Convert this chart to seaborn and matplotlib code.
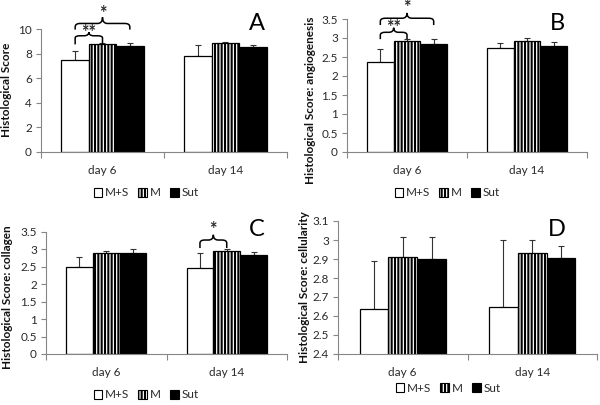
import numpy as np
import pandas as pd
import seaborn as sns
import matplotlib
matplotlib.use("Agg")
import matplotlib.pyplot as plt
from matplotlib.patches import Patch, PathPatch
from matplotlib.path import Path

# ---------------- data ----------------
days = ["day 6", "day 14"]
groups = ["M+S", "M", "Sut"]

# Panel A: Histological Score (mean per day: [day 6, day 14])
a_ms = [7.5, 7.8]
a_m = [8.75, 8.85]
a_sut = [8.6, 8.5]
a_ms_sd = [0.75, 0.9]
a_m_sd = [0.15, 0.08]
a_sut_sd = [0.3, 0.22]

# Panel B: angiogenesis
b_ms = [2.37, 2.73]
b_m = [2.91, 2.93]
b_sut = [2.84, 2.79]
b_ms_sd = [0.35, 0.15]
b_m_sd = [0.06, 0.08]
b_sut_sd = [0.13, 0.1]

# Panel C: collagen
c_ms = [2.5, 2.47]
c_m = [2.91, 2.96]
c_sut = [2.9, 2.85]
c_ms_sd = [0.28, 0.44]
c_m_sd = [0.05, 0.04]
c_sut_sd = [0.12, 0.09]

# Panel D: cellularity
d_ms = [2.637, 2.645]
d_m = [2.911, 2.934]
d_sut = [2.9, 2.905]
d_ms_sd = [0.25, 0.355]
d_m_sd = [0.105, 0.066]
d_sut_sd = [0.118, 0.066]

ylabels = ["Histological Score", "Histological Score: angiogenesis",
           "Histological Score: collagen", "Histological Score: cellularity"]
panel_letters = ["A", "B", "C", "D"]
a_ticks = [0, 2, 4, 6, 8, 10]
b_ticks = [0, 0.5, 1, 1.5, 2, 2.5, 3, 3.5]
c_ticks = [0, 0.5, 1, 1.5, 2, 2.5, 3, 3.5]
d_ticks = [2.4, 2.5, 2.6, 2.7, 2.8, 2.9, 3.0, 3.1]

bar_colors = ["white", "white", "black"]
hatches = ["", "|||||", ""]

# ---------------- style ----------------
sns.set_style("white")
plt.rcParams["font.family"] = ["Lato", "DejaVu Sans"]
plt.rcParams["hatch.linewidth"] = 1.5
plt.rcParams["hatch.color"] = "black"

W, H = 600, 405
fig = plt.figure(figsize=(6.0, 4.05), dpi=100)

def box(l, r, t, b):
    return [l / W, 1 - b / H, (r - l) / W, (b - t) / H]

rects = [box(41, 287, 29, 152), box(347, 587, 19, 152),
         box(46, 287, 232, 354), box(338, 597, 221, 354)]
label_x = [12, 316, 13, 310]
label_y = [90, 100, 297, 287]
letter_pos = [(257, 23), (557, 23), (257, 229), (557, 229)]
legend_pos = [(146, 193), (447, 193), (146, 395), (448, 388)]

panels = [
    (a_ms, a_m, a_sut, a_ms_sd, a_m_sd, a_sut_sd, a_ticks),
    (b_ms, b_m, b_sut, b_ms_sd, b_m_sd, b_sut_sd, b_ticks),
    (c_ms, c_m, c_sut, c_ms_sd, c_m_sd, c_sut_sd, c_ticks),
    (d_ms, d_m, d_sut, d_ms_sd, d_m_sd, d_sut_sd, d_ticks),
]

AXC = "#868686"
TXT = "#2a2a2a"
FS = 8.5


def brace(ax, x1, x2, ybot, yh, ypeak, text, ytext, rx=0.04, ry=None):
    if ry is None:
        ry = (ypeak - yh) * 0.6
    xm = (x1 + x2) / 2
    verts = [(x1, ybot), (x1, yh - ry), (x1, yh), (x1 + rx, yh),
             (xm - rx, yh), (xm, yh), (xm, ypeak),
             (xm, yh), (xm + rx, yh),
             (x2 - rx, yh), (x2, yh), (x2, yh - ry), (x2, ybot)]
    codes = [Path.MOVETO, Path.LINETO, Path.CURVE3, Path.CURVE3,
             Path.LINETO, Path.CURVE3, Path.CURVE3,
             Path.CURVE3, Path.CURVE3,
             Path.LINETO, Path.CURVE3, Path.CURVE3, Path.LINETO]
    pp = PathPatch(Path(verts, codes), fill=False, edgecolor="black",
                   linewidth=1.1, clip_on=False)
    ax.add_patch(pp)
    ax.text(xm, ytext, text, ha="center", va="center", fontsize=13,
            fontweight="bold", color=TXT, clip_on=False)


axes = []
bar_conts = []
for i, (ms, m, sut, ms_sd, m_sd, sut_sd, ticks) in enumerate(panels):
    ax = fig.add_axes(rects[i])
    axes.append(ax)
    df = pd.DataFrame({
        "day": days * 3,
        "group": [g for g in groups for _ in days],
        "score": list(ms) + list(m) + list(sut),
    })
    sns.barplot(data=df, x="day", y="score", hue="group", hue_order=groups,
                order=days, palette=bar_colors, edgecolor="black",
                linewidth=0.9, width=0.667, gap=0, errorbar=None,
                legend=False, ax=ax, zorder=2)
    conts = list(ax.containers)
    bar_conts.append(conts)
    sds = [ms_sd, m_sd, sut_sd]
    for gi, cont in enumerate(conts):
        xs, ys = [], []
        for bar in cont.patches:
            bar.set_hatch(hatches[gi])
            xs.append(bar.get_x() + bar.get_width() / 2)
            ys.append(bar.get_height())
        err = np.array(sds[gi])
        ax.errorbar(xs, ys, yerr=[np.zeros_like(err), err], fmt="none",
                    ecolor="#333333", elinewidth=0.8, capsize=2.0,
                    capthick=0.8, zorder=1)
    ax.set_xlim(-0.5, 1.5)
    ax.set_ylim(ticks[0], ticks[-1])
    ax.set_yticks(ticks)
    ax.set_yticklabels([f"{t:g}" for t in ticks])
    ax.set_xlabel("")
    ax.set_ylabel(ylabels[i], fontsize=8.5, color="#111111",
                  fontweight="bold")
    ax.yaxis.set_label_coords(label_x[i] / W, 1 - label_y[i] / H,
                              transform=fig.transFigure)
    for s in ["top", "right"]:
        ax.spines[s].set_visible(False)
    for s in ["left", "bottom"]:
        ax.spines[s].set_color(AXC)
        ax.spines[s].set_linewidth(0.8)
    ax.set_xticks([-0.5, 0.5, 1.5], minor=True)
    ax.tick_params(axis="x", which="major", length=0, labelsize=FS,
                   labelcolor=TXT, pad=9)
    ax.tick_params(axis="x", which="minor", length=4, color=AXC, width=0.8,
                   direction="out", bottom=True)
    ax.tick_params(axis="y", which="major", length=3.5, color=AXC, width=0.8,
                   direction="out", labelsize=FS, labelcolor=TXT, left=True,
                   pad=3)
    fig.text(letter_pos[i][0] / W, 1 - letter_pos[i][1] / H,
             panel_letters[i], ha="center", va="center", fontsize=17,
             color="black")
    handles = [Patch(facecolor=bar_colors[k], edgecolor="black",
                     hatch=hatches[k], linewidth=0.8) for k in range(3)]
    fig.legend(handles, groups, loc="center",
               bbox_to_anchor=(legend_pos[i][0] / W, 1 - legend_pos[i][1] / H),
               ncol=3, frameon=False, fontsize=FS, handlelength=0.75,
               handleheight=0.75, handletextpad=0.2, columnspacing=0.8,
               labelcolor=TXT)

# significance braces (positions from bar centres)
def centers(k, gi):
    return [b.get_x() + b.get_width() / 2 for b in bar_conts[k][gi].patches]

axA, axB, axC, axD = axes
brace(axA, centers(0, 0)[0], centers(0, 1)[0], 8.75, 9.45, 9.75, "**", 9.7)
brace(axA, centers(0, 0)[0], centers(0, 2)[0], 9.95, 10.45, 10.95, "*", 11.3)
brace(axB, centers(1, 0)[0], centers(1, 1)[0], 2.97, 3.15, 3.27, "**", 3.27)
brace(axB, centers(1, 0)[0], centers(1, 2)[0], 3.34, 3.52, 3.66, "*", 3.8)
brace(axC, centers(2, 0)[1], centers(2, 1)[1], 3.04, 3.27, 3.42, "*", 3.56)

fig.savefig("out.png", dpi=100, facecolor="white")
